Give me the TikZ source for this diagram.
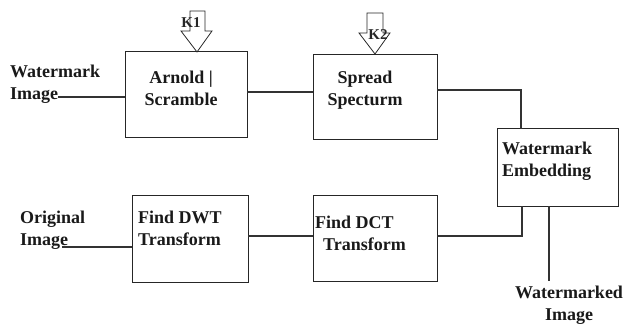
\documentclass[tikz,border=0pt]{standalone}
\usepackage{fontspec}
\setmainfont{Liberation Serif}
\usetikzlibrary{positioning}

\tikzset{
  blk/.style={draw=black!85, line width=1pt, inner sep=0pt, outer sep=0pt},
  txt/.style={inner sep=0pt, font=\fontsize{18}{22}\selectfont\bfseries, text=black!90},
  keytxt/.style={inner sep=0pt, font=\fontsize{15}{16}\selectfont\bfseries, text=black!85},
  wire/.style={draw=black!80, line width=1.1pt},
}

\begin{document}
\begin{tikzpicture}[x=1pt,y=-1pt]
\useasboundingbox (0,0) rectangle (624,326);
% blocks
\node[blk, minimum width=122pt, minimum height=86pt] (arnold) at (186,95) {};
\node[blk, minimum width=124pt, minimum height=85pt] (spread) at (375,97.5) {};
\node[blk, minimum width=121pt, minimum height=77pt] (embed) at (557.5,167.5) {};
\node[blk, minimum width=116pt, minimum height=87pt] (dwt) at (190,238.5) {};
\node[blk, minimum width=124pt, minimum height=86pt] (dct) at (375,238) {};
% block texts
\node[txt, align=center] (arnoldtxt) at (181,88) {Arnold |\\Scramble};
\node[txt, align=center] (spreadtxt) at (365,90) {Spread\\Specturm};
\node[txt, align=left, anchor=west] (embedtxt) at (502,161) {Watermark\\Embedding};
\node[txt, align=left, anchor=west] (dwttxt) at (138,228) {Find DWT\\Transform};
\node[txt, align=left, anchor=west] (dcttxt) at (315,233) {Find DCT\\\hspace*{8pt}Transform};
% in / out labels
\node[txt, align=left, anchor=west] (wmimg) at (10,84) {Watermark\\Image};
\node[txt, align=left, anchor=west] (orgimg) at (20,230) {Original\\Image};
\node[txt, align=center] (wmdimg) at (569,305) {Watermarked\\Image};
\coordinate (wmin) at (58,97);
\coordinate (orgin) at (62,247);
\coordinate (wmout) at (549,281);
% key arrows
\draw[line width=0.8pt, black!85] (190,11) -- (205,11) -- (205,31) -- (212,31) -- (197,52)
  -- (181,31) -- (190,31) -- cycle;
\node[keytxt] (k1) at (191,23) {K1};
\draw[line width=0.8pt, black!85] (367,13) -- (383,13) -- (383,33) -- (390,33) -- (375,54)
  -- (359,33) -- (367,33) -- cycle;
\node[keytxt] (k2) at (378,35) {K2};
% connectors
\draw[wire] (wmin) -- (wmin -| arnold.west);
\draw[wire] ([yshift=3pt]arnold.east) -- ([yshift=3pt]arnold.east -| spread.west);
\draw[wire] ([yshift=7.5pt]spread.east) -| ([xshift=-36.5pt]embed.north);
\draw[wire] (orgin) -- (orgin -| dwt.west);
\draw[wire] ([yshift=2.5pt]dwt.east) -- ([yshift=2.5pt]dwt.east -| dct.west);
\draw[wire] ([yshift=2pt]dct.east) -| ([xshift=-35.5pt]embed.south);
\draw[wire] ([xshift=-8.5pt]embed.south) -- (wmout);
\end{tikzpicture}
\end{document}
